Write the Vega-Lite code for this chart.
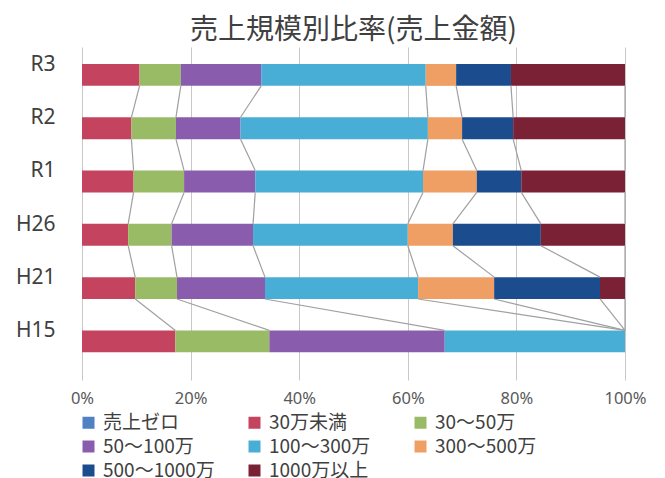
{
  "$schema": "https://vega.github.io/schema/vega-lite/v6.json",
  "width": 543,
  "height": 333,
  "padding": {"left": 82, "top": 47, "right": 40, "bottom": 98},
  "autosize": {"type": "none"},
  "background": "white",
  "title": {"text": "売上規模別比率(売上金額)", "font": "Noto Sans CJK JP", "fontSize": 28, "fontWeight": "normal", "color": "#404040", "anchor": "middle", "offset": 2},
  "datasets": {
    "shares": [
      {"year": "R3", "yo": 0, "cat": "売上ゼロ", "co": 0, "v": 0},
      {"year": "R3", "yo": 0, "cat": "30万未満", "co": 1, "v": 0.106},
      {"year": "R3", "yo": 0, "cat": "30〜50万", "co": 2, "v": 0.076},
      {"year": "R3", "yo": 0, "cat": "50〜100万", "co": 3, "v": 0.148},
      {"year": "R3", "yo": 0, "cat": "100〜300万", "co": 4, "v": 0.303},
      {"year": "R3", "yo": 0, "cat": "300〜500万", "co": 5, "v": 0.056},
      {"year": "R3", "yo": 0, "cat": "500〜1000万", "co": 6, "v": 0.101},
      {"year": "R3", "yo": 0, "cat": "1000万以上", "co": 7, "v": 0.210},
      {"year": "R2", "yo": 1, "cat": "売上ゼロ", "co": 0, "v": 0},
      {"year": "R2", "yo": 1, "cat": "30万未満", "co": 1, "v": 0.091},
      {"year": "R2", "yo": 1, "cat": "30〜50万", "co": 2, "v": 0.082},
      {"year": "R2", "yo": 1, "cat": "50〜100万", "co": 3, "v": 0.119},
      {"year": "R2", "yo": 1, "cat": "100〜300万", "co": 4, "v": 0.345},
      {"year": "R2", "yo": 1, "cat": "300〜500万", "co": 5, "v": 0.063},
      {"year": "R2", "yo": 1, "cat": "500〜1000万", "co": 6, "v": 0.094},
      {"year": "R2", "yo": 1, "cat": "1000万以上", "co": 7, "v": 0.206},
      {"year": "R1", "yo": 2, "cat": "売上ゼロ", "co": 0, "v": 0},
      {"year": "R1", "yo": 2, "cat": "30万未満", "co": 1, "v": 0.095},
      {"year": "R1", "yo": 2, "cat": "30〜50万", "co": 2, "v": 0.093},
      {"year": "R1", "yo": 2, "cat": "50〜100万", "co": 3, "v": 0.131},
      {"year": "R1", "yo": 2, "cat": "100〜300万", "co": 4, "v": 0.309},
      {"year": "R1", "yo": 2, "cat": "300〜500万", "co": 5, "v": 0.099},
      {"year": "R1", "yo": 2, "cat": "500〜1000万", "co": 6, "v": 0.082},
      {"year": "R1", "yo": 2, "cat": "1000万以上", "co": 7, "v": 0.191},
      {"year": "H26", "yo": 3, "cat": "売上ゼロ", "co": 0, "v": 0},
      {"year": "H26", "yo": 3, "cat": "30万未満", "co": 1, "v": 0.085},
      {"year": "H26", "yo": 3, "cat": "30〜50万", "co": 2, "v": 0.080},
      {"year": "H26", "yo": 3, "cat": "50〜100万", "co": 3, "v": 0.150},
      {"year": "H26", "yo": 3, "cat": "100〜300万", "co": 4, "v": 0.285},
      {"year": "H26", "yo": 3, "cat": "300〜500万", "co": 5, "v": 0.083},
      {"year": "H26", "yo": 3, "cat": "500〜1000万", "co": 6, "v": 0.162},
      {"year": "H26", "yo": 3, "cat": "1000万以上", "co": 7, "v": 0.155},
      {"year": "H21", "yo": 4, "cat": "売上ゼロ", "co": 0, "v": 0},
      {"year": "H21", "yo": 4, "cat": "30万未満", "co": 1, "v": 0.098},
      {"year": "H21", "yo": 4, "cat": "30〜50万", "co": 2, "v": 0.077},
      {"year": "H21", "yo": 4, "cat": "50〜100万", "co": 3, "v": 0.162},
      {"year": "H21", "yo": 4, "cat": "100〜300万", "co": 4, "v": 0.282},
      {"year": "H21", "yo": 4, "cat": "300〜500万", "co": 5, "v": 0.140},
      {"year": "H21", "yo": 4, "cat": "500〜1000万", "co": 6, "v": 0.195},
      {"year": "H21", "yo": 4, "cat": "1000万以上", "co": 7, "v": 0.046},
      {"year": "H15", "yo": 5, "cat": "売上ゼロ", "co": 0, "v": 0},
      {"year": "H15", "yo": 5, "cat": "30万未満", "co": 1, "v": 0.172},
      {"year": "H15", "yo": 5, "cat": "30〜50万", "co": 2, "v": 0.173},
      {"year": "H15", "yo": 5, "cat": "50〜100万", "co": 3, "v": 0.323},
      {"year": "H15", "yo": 5, "cat": "100〜300万", "co": 4, "v": 0.332},
      {"year": "H15", "yo": 5, "cat": "300〜500万", "co": 5, "v": 0},
      {"year": "H15", "yo": 5, "cat": "500〜1000万", "co": 6, "v": 0},
      {"year": "H15", "yo": 5, "cat": "1000万以上", "co": 7, "v": 0}
    ]
  },
  "data": {"name": "shares"},
  "encoding": {
    "y": {
      "field": "year", "type": "nominal",
      "sort": ["R3", "R2", "R1", "H26", "H21", "H15"],
      "scale": {"paddingInner": 0.59, "paddingOuter": 0.42, "align": 0.38},
      "axis": {"title": null, "domain": false, "ticks": false, "grid": false, "labelFont": "Noto Sans", "labelFontSize": 21, "labelColor": "#404040", "labelPadding": 27, "labelOffset": -10}
    }
  },
  "layer": [
    {
      "mark": {"type": "bar"},
      "encoding": {
        "x": {
          "field": "v", "type": "quantitative", "stack": "zero",
          "scale": {"domain": [0, 1], "nice": false},
          "axis": {"title": null, "format": "%", "values": [0, 0.2, 0.4, 0.6, 0.8, 1], "domain": false, "ticks": false, "grid": true, "gridColor": "#c8c8c8", "gridWidth": 1, "labelFont": "Noto Sans", "labelFontSize": 16.5, "labelColor": "#595959", "labelPadding": 10, "labelFlush": false, "labelOverlap": false, "labelBound": false}
        },
        "color": {
          "field": "cat", "type": "nominal",
          "scale": {
            "domain": ["売上ゼロ", "30万未満", "30〜50万", "50〜100万", "100〜300万", "300〜500万", "500〜1000万", "1000万以上"],
            "range": ["#4f81c4", "#c4435f", "#99bb66", "#8a5cae", "#48aed6", "#ef9f63", "#1a4c8e", "#7a2136"]
          },
          "legend": {
            "title": null, "orient": "none", "legendX": -3, "legendY": 366, "direction": "horizontal", "columns": 3,
            "gridAlign": "all", "columnPadding": 30, "rowPadding": 4,
            "symbolType": "square", "symbolSize": 144, "symbolStrokeWidth": 0, "symbolOffset": 0,
            "labelFont": "Noto Sans CJK JP", "labelFontSize": 19, "labelColor": "#404040", "labelOffset": 5
          }
        },
        "order": {"field": "co", "type": "quantitative"}
      }
    },
    {
      "transform": [
        {"window": [{"op": "sum", "field": "v", "as": "cum"}], "groupby": ["year"], "sort": [{"field": "co", "order": "ascending"}], "frame": [null, 0]},
        {"window": [{"op": "lead", "field": "cum", "as": "nextCum"}, {"op": "lead", "field": "year", "as": "nextYear"}], "groupby": ["cat"], "sort": [{"field": "yo", "order": "ascending"}], "frame": [null, null]},
        {"filter": "datum.nextYear != null && datum.co > 0"}
      ],
      "mark": {"type": "rule", "color": "#a0a0a0", "strokeWidth": 1.2},
      "encoding": {
        "x": {"field": "cum", "type": "quantitative"},
        "x2": {"field": "nextCum"},
        "y": {"field": "year", "type": "nominal", "sort": ["R3", "R2", "R1", "H26", "H21", "H15"], "bandPosition": 1},
        "y2": {"field": "nextYear", "bandPosition": 0}
      }
    }
  ],
  "config": {"view": {"stroke": null}}
}
